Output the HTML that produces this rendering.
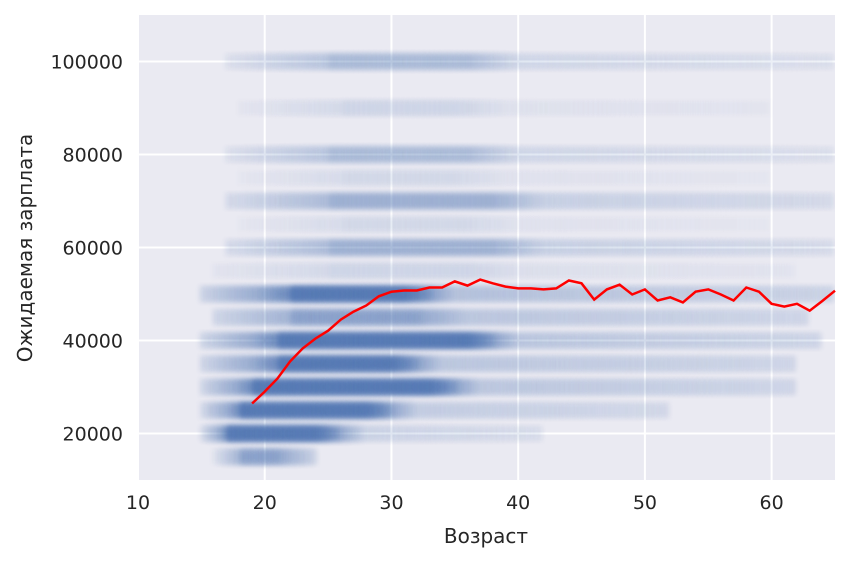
<!DOCTYPE html>
<html><head><meta charset="utf-8">
<style>
body{margin:0;background:#fff;width:850px;height:563px;overflow:hidden;font-family:"DejaVu Sans","Liberation Sans",sans-serif}
</style></head>
<body>
<svg id="chart" width="850" height="563" style="position:absolute;left:0;top:0">
  <rect x="138" y="15" width="697" height="465" fill="#eaeaf2"/>
  <g id="grid"></g>
  <foreignObject x="138" y="15" width="697" height="465"><canvas id="cv" width="697" height="465"></canvas></foreignObject>
  <g id="ticks"></g>
  <path id="meanLine" fill="none" stroke="#ff0000" stroke-width="2.5"/>
  <text x="486" y="543" font-size="20" text-anchor="middle" fill="#262626">Возраст</text>
  <text transform="translate(32,248) rotate(-90)" font-size="20" text-anchor="middle" fill="#262626">Ожидаемая зарплата</text>
</svg>
<script>
const xTicks=[10,20,30,40,50,60];
const yTicks=[20000,40000,60000,80000,100000];
const ages=[19,20,21,22,23,24,25,26,27,28,29,30,31,32,33,34,35,36,37,38,39,40,41,42,43,44,45,46,47,48,49,50,51,52,53,54,55,56,57,58,59,60,61,62,63,64,65];
const meanSalary=[26450,29000,31800,35500,38300,40400,42100,44500,46200,47500,49500,50500,50750,50750,51400,51400,52700,51800,53100,52300,51600,51200,51200,51000,51200,52900,52300,48800,51000,52000,49900,51000,48600,49300,48200,50500,51000,49900,48600,51400,50500,47900,47300,47900,46400,48500,50700];
const bandSalary=[15000,20000,25000,30000,35000,40000,45000,50000,55000,60000,65000,70000,75000,80000,90000,100000];
const bandStart=[16,15,15,15,15,15,16,15,16,17,18,17,18,17,18,17];
const bandPeakStart=[18,17,18,19,21,21,22,22,25,25,26,25,26,25,26,25];
const bandPeakEnd=[21,24,28,33,30,36,32,31,36,38,36,38,35,36,35,36];
const bandEnd=[24,42,52,62,62,64,63,65,62,65,60,65,60,65,60,65];
const bandPeak=[0.6,1,1,1,1,1,0.6,1,0.15,0.5,0.12,0.5,0.12,0.4,0.15,0.4];
const bandTail=[0.12,0.2,0.25,0.3,0.3,0.32,0.3,0.35,0.08,0.22,0.06,0.22,0.06,0.16,0.07,0.16];

const X0=138,Y0=15,W=697,H=465;
const sx=a=>X0+(a-10)*W/55;
const sy=v=>Y0+(110000-v)*H/100000;
const NS='http://www.w3.org/2000/svg';
const grid=document.getElementById('grid'),ticks=document.getElementById('ticks');
xTicks.forEach(t=>{
  const l=document.createElementNS(NS,'line');
  
  
  l.setAttribute('x1',sx(t));l.setAttribute('x2',sx(t));l.setAttribute('y1',Y0);l.setAttribute('y2',Y0+H);
  l.setAttribute('stroke','#fff');l.setAttribute('stroke-width','2');grid.appendChild(l);
  const tx=document.createElementNS(NS,'text');
  
  
  tx.setAttribute('x',sx(t));tx.setAttribute('y',509);tx.setAttribute('font-size','19');
  tx.setAttribute('text-anchor','middle');tx.setAttribute('fill','#262626');tx.textContent=t;ticks.appendChild(tx);
});
yTicks.forEach(t=>{
  const l=document.createElementNS(NS,'line');
  
  
  l.setAttribute('x1',X0);l.setAttribute('x2',X0+W);l.setAttribute('y1',sy(t));l.setAttribute('y2',sy(t));
  l.setAttribute('stroke','#fff');l.setAttribute('stroke-width','2');grid.appendChild(l);
  const tx=document.createElementNS(NS,'text');
  
  
  tx.setAttribute('x',123);tx.setAttribute('y',sy(t)+7);tx.setAttribute('font-size','19');
  tx.setAttribute('text-anchor','end');tx.setAttribute('fill','#262626');tx.textContent=t;ticks.appendChild(tx);
});
const cv=document.getElementById('cv'),ctx=cv.getContext('2d');
ctx.filter='blur(2.5px)';
function dens(i,a){
  if(a>=bandPeakStart[i]&&a<=bandPeakEnd[i]) return bandPeak[i];
  if(a<bandPeakStart[i]) return bandTail[i]*0.5+(bandPeak[i]-bandTail[i]*0.5)*Math.max(0,(a-bandStart[i])/(bandPeakStart[i]-bandStart[i]))*0.7;
  return bandTail[i]*(1-0.5*(a-bandPeakEnd[i])/(bandEnd[i]-bandPeakEnd[i]+0.01))+(bandPeak[i]-bandTail[i])*Math.max(0,1-(a-bandPeakEnd[i])/4);
}
for(let pass=0;pass<2;pass++){
bandSalary.forEach((s,i)=>{
  for(let a=bandStart[i];a<=bandEnd[i];a+=0.2){
    const d=Math.min(1,dens(i,a));
    const al=pass===0?d:Math.max(0,(d-0.55)*2);
    if(al<=0) continue;
    ctx.fillStyle='rgba(76,114,176,'+al+')';
    ctx.fillRect(sx(a)-X0-1.5,sy(s)-Y0-(pass?6:8),3,pass?12:16);
  }
});
}
document.getElementById('meanLine').setAttribute('d',ages.map((a,i)=>(i?'L':'M')+sx(a).toFixed(1)+','+sy(meanSalary[i]).toFixed(1)).join(''));
</script>
</body></html>
